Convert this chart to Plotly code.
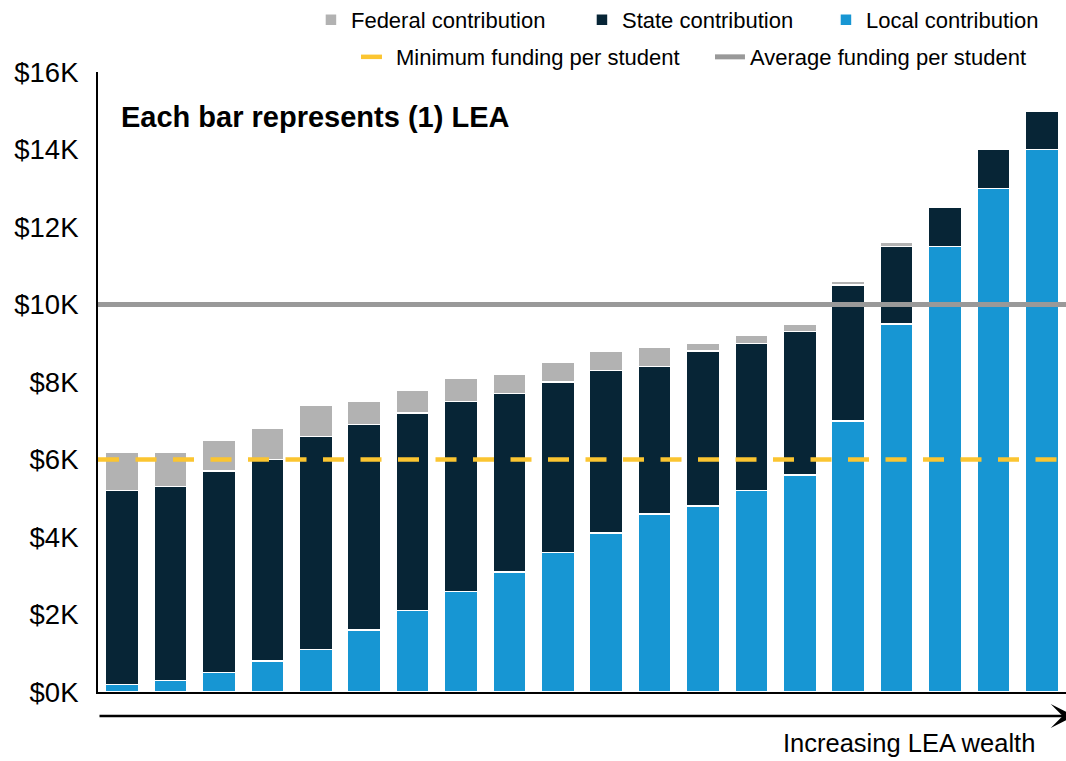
import plotly.graph_objects as go

# ---- data (values in thousands of dollars per student) ----
leas = [f"LEA {i}" for i in range(1, 21)]
local_contribution = [0.2, 0.3, 0.5, 0.8, 1.1, 1.6, 2.1, 2.6, 3.1, 3.6,
                      4.1, 4.6, 4.8, 5.2, 5.6, 7.0, 9.5, 11.5, 13.0, 14.0]
state_contribution = [5.0, 5.0, 5.2, 5.2, 5.5, 5.3, 5.1, 4.9, 4.6, 4.4,
                      4.2, 3.8, 4.0, 3.8, 3.7, 3.5, 2.0, 1.0, 1.0, 1.0]
federal_contribution = [1.0, 0.9, 0.8, 0.8, 0.8, 0.6, 0.6, 0.6, 0.5, 0.5,
                        0.5, 0.5, 0.2, 0.2, 0.2, 0.1, 0.1, 0.0, 0.0, 0.0]
minimum_funding = 6.0
average_funding = 10.0
y_ticks = [0, 2, 4, 6, 8, 10, 12, 14, 16]
y_tick_labels = ["$0K", "$2K", "$4K", "$6K", "$8K", "$10K", "$12K", "$14K", "$16K"]

FONT = "Arial, Liberation Sans, sans-serif"
C_FED = "#b2b2b2"
C_STATE = "#072536"
C_LOCAL = "#1796d3"
C_MIN = "#fbc531"
C_AVG = "#999999"

fig = go.Figure()

bar_line = dict(color="white", width=1.5)
fig.add_trace(go.Bar(x=leas, y=local_contribution, name="Local contribution",
                     marker=dict(color=C_LOCAL, line=bar_line),
                     legend="legend", legendwidth=190))
fig.add_trace(go.Bar(x=leas, y=state_contribution, name="State contribution",
                     marker=dict(color=C_STATE, line=bar_line),
                     legend="legend", legendwidth=199))
fig.add_trace(go.Bar(x=leas, y=federal_contribution, name="Federal contribution",
                     marker=dict(color=C_FED, line=bar_line),
                     legend="legend", legendwidth=226))

fig.add_trace(go.Scatter(x=[0, 1], y=[minimum_funding, minimum_funding],
                         mode="lines", name="Minimum funding per student",
                         xaxis="x2", line=dict(color=C_MIN, width=4.5, dash="21px,16.5px"),
                         legend="legend2", legendwidth=309))
fig.add_trace(go.Scatter(x=[0, 1], y=[average_funding, average_funding],
                         mode="lines", name="Average funding per student",
                         xaxis="x2", line=dict(color=C_AVG, width=5),
                         legend="legend2", legendwidth=300))

fig.update_layout(
    width=1066, height=761,
    margin=dict(l=98, r=0, t=72, b=69, autoexpand=False),
    paper_bgcolor="white", plot_bgcolor="white",
    barmode="stack", bargap=0.318,
    font=dict(family=FONT, color="black"),
    xaxis=dict(showticklabels=False, ticks="", showgrid=False, zeroline=False,
               showline=True, linecolor="black", linewidth=2, automargin=False),
    xaxis2=dict(overlaying="x", range=[0, 1], visible=False),
    yaxis=dict(range=[0, 16], tickmode="array", tickvals=y_ticks, ticktext=y_tick_labels,
               showgrid=False, zeroline=False, showline=True, linecolor="black",
               linewidth=2, ticks="", ticklabelstandoff=12, automargin=False,
               tickfont=dict(size=27.5, family=FONT, color="black")),
    legend=dict(orientation="h", x=0.22, xanchor="left", y=1.118, yanchor="top",
                traceorder="reversed", font=dict(size=22, family=FONT, color="black"),
                bgcolor="rgba(0,0,0,0)"),
    legend2=dict(orientation="h", x=0.2665, xanchor="left", y=1.058, yanchor="top",
                 traceorder="normal", font=dict(size=22, family=FONT, color="black"),
                 bgcolor="rgba(0,0,0,0)"),
    showlegend=True,
)

fig.add_annotation(text="<b>Each bar represents (1) LEA</b>", xref="paper", yref="paper",
                   x=0.0217, y=0.927, xanchor="left", yanchor="middle", showarrow=False,
                   font=dict(size=29, family=FONT, color="black"))

# wealth arrow below the axis
fig.add_annotation(xref="x2", yref="y domain", axref="x2", ayref="y domain",
                   x=1.009, y=-0.0387, ax=0.0, ay=-0.0387, text="",
                   showarrow=True, arrowhead=3, arrowsize=1.6, arrowwidth=2.5,
                   arrowcolor="black")
fig.add_annotation(text="Increasing LEA wealth", xref="paper", yref="paper",
                   x=0.969, y=-0.106, xanchor="right", yanchor="bottom", showarrow=False,
                   borderpad=0, font=dict(size=25.5, family=FONT, color="black"))

fig.write_html("out.html", config={"displayModeBar": False},
               post_script="document.body.style.margin='0';document.body.style.overflow='hidden';")
